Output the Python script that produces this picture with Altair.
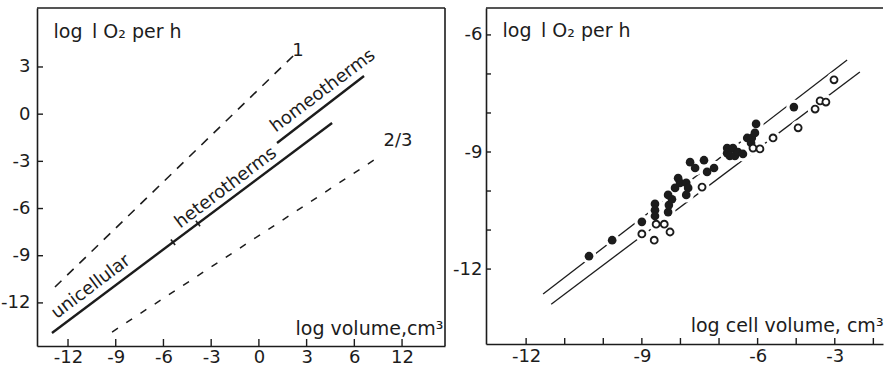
import json

import altair as alt
import pandas as pd

FONT = "DejaVu Sans"
INK = "#1c1c1c"

# ---------------- left panel: whole-organism respiration ----------------
LEFT_X_TICKS = [-12, -9, -6, -3, 0, 3, 6, 9]
LEFT_X_LABELS = ["-12", "-9", "-6", "-3", "0", "3", "6", "12"]
LEFT_Y_TICKS = [3, 0, -3, -6, -9, -12]
LEFT_Y_LABELS = ["3", "0", "-3", "-6", "-9", "-12"]

# reference slopes (dashed)
SLOPE_ONE_X = [-12.82, 2.15]
SLOPE_ONE_Y = [-10.99, 3.70]
SLOPE_TWO_THIRDS_X = [-9.23, 7.62]
SLOPE_TWO_THIRDS_Y = [-13.85, -2.66]

# fitted relations (solid)
UNI_HET_X = [-13.01, 4.60]
UNI_HET_Y = [-13.91, -0.56]
HOMEO_X = [1.14, 6.61]
HOMEO_Y = [-1.83, 2.43]

# group boundaries marked on the unicellular/heterotherm line
BOUNDARY_X = [-5.40, -3.83]

GROUP_LABELS = ["unicellular", "heterotherms", "homeotherms"]
GROUP_LABEL_X = [-10.55, -2.07, 4.03]
GROUP_LABEL_Y = [-10.99, -4.69, 1.47]

SLOPE_LABELS = ["1", "2/3"]
SLOPE_LABEL_X = [2.46, 8.75]
SLOPE_LABEL_Y = [4.02, -1.70]

# ---------------- right panel: cell respiration ----------------
FILLED_X = [-10.37, -9.77, -9.00, -8.66, -8.66, -8.66, -8.32, -8.30, -8.32, -8.22,
            -8.14, -8.06, -8.01, -7.85, -7.80, -7.85, -7.75, -7.62, -7.39, -7.31,
            -7.13, -6.79, -6.64, -6.79, -6.72, -6.59, -6.51, -6.38, -6.27, -6.15,
            -6.17, -6.07, -6.04, -5.06]
FILLED_Y = [-11.67, -11.26, -10.79, -10.33, -10.49, -10.64, -10.54, -10.36, -10.10, -10.21,
            -9.92, -9.67, -9.79, -9.79, -9.92, -10.10, -9.26, -9.41, -9.21, -9.51,
            -9.41, -8.90, -8.90, -9.03, -9.10, -9.10, -9.00, -9.05, -8.64, -8.64,
            -8.77, -8.51, -8.28, -7.85]
OPEN_X = [-9.00, -8.68, -8.63, -8.42, -8.27, -7.44, -6.12, -5.94, -5.60, -4.95,
          -4.51, -4.38, -4.23, -4.02]
OPEN_Y = [-11.10, -11.26, -10.85, -10.85, -11.05, -9.90, -8.90, -8.92, -8.64, -8.38,
          -7.90, -7.69, -7.72, -7.15]

UPPER_X = [-11.56, -3.68]
UPPER_Y = [-12.64, -6.64]
LOWER_X = [-11.35, -3.35]
LOWER_Y = [-12.90, -6.95]

RIGHT_X_TICKS = list(range(-12, -2))
RIGHT_X_LABEL_AT = [-12, -9, -6, -4]
RIGHT_X_LABELS = ["-12", "-9", "-6", "-3"]
RIGHT_Y_TICKS = list(range(-6, -13, -1))
RIGHT_Y_LABEL_AT = [-6, -9, -12]
RIGHT_Y_LABELS = ["-6", "-9", "-12"]

Y_TITLE = "log\u2002l O\u2082 per h"

# ---------------- geometry ----------------
LW, LH = 408, 338
RW, RH = 397, 336
L_XDOM = [-13.95, 11.70]
L_YDOM = [-14.74, 6.75]
R_XDOM = [-13.04, -2.75]
R_YDOM = [-13.92, -5.31]


def label_expr(values, labels):
    return f"{json.dumps(labels)}[indexof({json.dumps(values)}, datum.value)]"


axis_common = dict(
    grid=False, ticks=False, tickSize=0, labelFont=FONT, labelFontSize=18, labelColor=INK,
    titleFont=FONT, titleFontSize=19, titleFontWeight="normal", titleColor=INK,
    titleAngle=0, titleBaseline="alphabetic", labelFlush=False, labelOverlap=False,
    domain=True, domainColor=INK, domainWidth=1.6,
)

lx = alt.X("x:Q", scale=alt.Scale(domain=L_XDOM, nice=False, zero=False),
           axis=alt.Axis(values=LEFT_X_TICKS, labelExpr=label_expr(LEFT_X_TICKS, LEFT_X_LABELS),
                         title="log volume,cm\u00b3", titleX=406, titleY=-12, titleAlign="right",
                         labelPadding=2, **axis_common))
ly = alt.Y("y:Q", scale=alt.Scale(domain=L_YDOM, nice=False, zero=False),
           axis=alt.Axis(values=LEFT_Y_TICKS, labelExpr=label_expr(LEFT_Y_TICKS, LEFT_Y_LABELS),
                         title=Y_TITLE, titleX=16, titleY=29, titleAlign="left", labelPadding=7,
                         minExtent=37, maxExtent=37, **axis_common))

rx = alt.X("x:Q", scale=alt.Scale(domain=R_XDOM, nice=False, zero=False),
           axis=alt.Axis(values=RIGHT_X_LABEL_AT, labelExpr=label_expr(RIGHT_X_LABEL_AT, RIGHT_X_LABELS),
                         title="log cell volume, cm\u00b3", titleX=397, titleY=-13, titleAlign="right",
                         labelPadding=3, **axis_common))
ry = alt.Y("y:Q", scale=alt.Scale(domain=R_YDOM, nice=False, zero=False),
           axis=alt.Axis(values=RIGHT_Y_LABEL_AT, labelExpr=label_expr(RIGHT_Y_LABEL_AT, RIGHT_Y_LABELS),
                         title=Y_TITLE, titleX=16, titleY=28, titleAlign="left", labelPadding=4,
                         minExtent=34, maxExtent=34, **axis_common))


def segment(xs, ys):
    return pd.DataFrame({"x": xs, "y": ys})


# ---------------- left panel layers ----------------
slope_one = alt.Chart(segment(SLOPE_ONE_X, SLOPE_ONE_Y)).mark_line(
    color=INK, strokeWidth=1.6, strokeDash=[9, 8]).encode(x=lx, y=ly)
slope_two_thirds = alt.Chart(segment(SLOPE_TWO_THIRDS_X, SLOPE_TWO_THIRDS_Y)).mark_line(
    color=INK, strokeWidth=1.5, strokeDash=[7, 10]).encode(x=lx, y=ly)

fits = pd.concat([
    segment(UNI_HET_X, UNI_HET_Y).assign(group="cold"),
    segment(HOMEO_X, HOMEO_Y).assign(group="warm"),
])
fit_lines = alt.Chart(fits).mark_line(color=INK, strokeWidth=2.4).encode(
    x=lx, y=ly, detail="group:N")

# short cross-marks perpendicular to the line at the group boundaries
slope = (UNI_HET_Y[1] - UNI_HET_Y[0]) / (UNI_HET_X[1] - UNI_HET_X[0])
px_per_x = LW / (L_XDOM[1] - L_XDOM[0])
px_per_y = LH / (L_YDOM[1] - L_YDOM[0])
half_len = 3.5  # px
rise_px = slope * px_per_y
norm = (px_per_x ** 2 + rise_px ** 2) ** 0.5
off_x = (rise_px / norm) * half_len / px_per_x
off_y = (px_per_x / norm) * half_len / px_per_y
bx, by, bx2, by2 = [], [], [], []
for x0 in BOUNDARY_X:
    y0 = UNI_HET_Y[0] + slope * (x0 - UNI_HET_X[0])
    bx.append(x0 + off_x)
    by.append(y0 - off_y)
    bx2.append(x0 - off_x)
    by2.append(y0 + off_y)
boundaries = alt.Chart(pd.DataFrame({"x": bx, "y": by, "x2": bx2, "y2": by2})).mark_rule(
    color=INK, strokeWidth=1.6).encode(x=lx, y=ly, x2="x2:Q", y2="y2:Q")

group_text = alt.Chart(pd.DataFrame({"x": GROUP_LABEL_X, "y": GROUP_LABEL_Y, "t": GROUP_LABELS})).mark_text(
    font=FONT, fontSize=18, color=INK, angle=323, align="center", baseline="middle").encode(
    x=lx, y=ly, text="t:N")
slope_text = alt.Chart(pd.DataFrame({"x": SLOPE_LABEL_X, "y": SLOPE_LABEL_Y, "t": SLOPE_LABELS})).mark_text(
    font=FONT, fontSize=18, color=INK, align="center", baseline="middle").encode(
    x=lx, y=ly, text="t:N")

left_yticks = alt.Chart(pd.DataFrame({"y": LEFT_Y_TICKS})).mark_rule(color=INK, strokeWidth=1.4).encode(
    y=ly, x=alt.value(0), x2=alt.value(6))
left_xticks = alt.Chart(pd.DataFrame({"x": LEFT_X_TICKS})).mark_rule(color=INK, strokeWidth=1.4).encode(
    x=lx, y=alt.value(LH), y2=alt.value(LH - 7))
left_top = alt.Chart(pd.DataFrame({"y": [L_YDOM[1]]})).mark_rule(color=INK, strokeWidth=1.6).encode(
    y=ly, x=alt.value(0), x2=alt.value(LW))
left_right = alt.Chart(pd.DataFrame({"x": [L_XDOM[1]]})).mark_rule(color=INK, strokeWidth=1.6).encode(
    x=lx, y=alt.value(0), y2=alt.value(LH))

left = alt.layer(
    slope_one, slope_two_thirds, fit_lines, boundaries, group_text, slope_text,
    left_yticks, left_xticks, left_top, left_right,
).properties(width=LW, height=LH)

# ---------------- right panel layers ----------------
fit_pair = pd.concat([
    segment(UPPER_X, UPPER_Y).assign(kind="intact"),
    segment(LOWER_X, LOWER_Y).assign(kind="isolated"),
])
right_lines = alt.Chart(fit_pair).mark_line(color=INK, strokeWidth=1.3).encode(
    x=rx, y=ry, detail="kind:N")

filled = pd.DataFrame({"x": FILLED_X, "y": FILLED_Y})
hollow = pd.DataFrame({"x": OPEN_X, "y": OPEN_Y})
halo = alt.Chart(pd.concat([filled, hollow])).mark_circle(
    color="white", size=230, opacity=1).encode(x=rx, y=ry)
filled_pts = alt.Chart(filled).mark_circle(color=INK, size=75, opacity=1).encode(x=rx, y=ry)
open_pts = alt.Chart(hollow).mark_point(
    shape="circle", filled=False, fill="white", stroke=INK, strokeWidth=1.9, size=48, opacity=1
).encode(x=rx, y=ry)

right_yticks = alt.Chart(pd.DataFrame({"y": RIGHT_Y_TICKS})).mark_rule(color=INK, strokeWidth=1.4).encode(
    y=ry, x=alt.value(0), x2=alt.value(5))
right_xticks = alt.Chart(pd.DataFrame({"x": RIGHT_X_TICKS})).mark_rule(color=INK, strokeWidth=1.4).encode(
    x=rx, y=alt.value(RH), y2=alt.value(RH - 6))
right_top = alt.Chart(pd.DataFrame({"y": [R_YDOM[1]]})).mark_rule(color=INK, strokeWidth=1.6).encode(
    y=ry, x=alt.value(0), x2=alt.value(RW))

right = alt.layer(
    right_lines, halo, filled_pts, open_pts, right_yticks, right_xticks, right_top,
).properties(width=RW, height=RH)

chart = alt.hconcat(left, right, spacing=6).properties(
    padding={"left": 0, "top": 7, "right": 0, "bottom": 0},
    background="white",
).configure_view(strokeWidth=0)

chart.save("out.html", embed_options={"renderer": "svg", "actions": False})
